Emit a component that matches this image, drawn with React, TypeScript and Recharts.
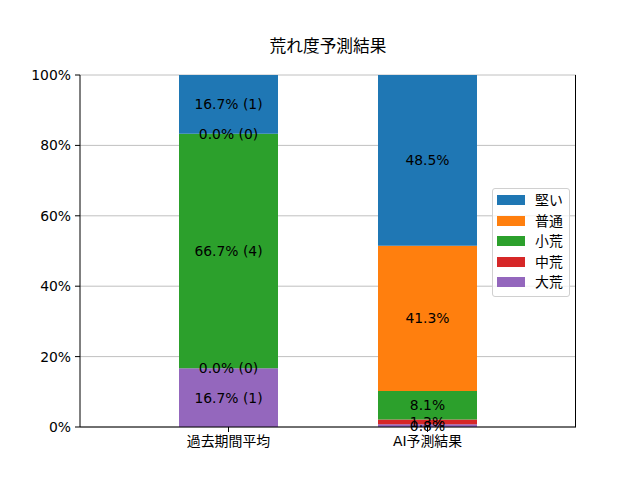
import React from "react";
import {
  BarChart,
  Bar,
  XAxis,
  YAxis,
  CartesianGrid,
  LabelList,
  Legend,
} from "recharts";

const categories = ["過去期間平均", "AI予測結果"];
const seriesNames = ["大荒", "中荒", "小荒", "普通", "堅い"];
const seriesColors = ["#9467bd", "#d62728", "#2ca02c", "#ff7f0e", "#1f77b4"];
const pastPct = [16.67, 0, 66.66, 0, 16.67];
const pastCounts = [1, 0, 4, 0, 1];
const aiPct = [0.8, 1.3, 8.1, 41.3, 48.5];
const yTicks = [0, 20, 40, 60, 80, 100];

const FONT = '"DejaVu Sans", "Noto Sans CJK JP", sans-serif';
const FS = 13.9;

// zero segments get a hair of height so recharts keeps their labels
const rows = categories.map((name, ci) => {
  const row: Record<string, any> = { name };
  seriesNames.forEach((s, si) => {
    const v = ci === 0 ? pastPct[si] : aiPct[si];
    row[s] = v === 0 ? 1e-6 : v;
  });
  return row;
});

const makeLabel = (si: number) => (props: any) => {
  const { x, y, width, height, index, value } = props;
  const text =
    index === 0
      ? `${Number(value).toFixed(1)}% (${pastCounts[si]})`
      : `${Number(value).toFixed(1)}%`;
  return (
    <text
      x={Number(x) + Number(width) / 2}
      y={Number(y) + Number(height) / 2}
      textAnchor="middle"
      dominantBaseline="central"
      fontSize={FS}
      fontFamily={FONT}
      fill="#000"
    >
      {text}
    </text>
  );
};

const LegendBox = () => (
  <div
    style={{
      border: "1px solid #d0d0d0",
      borderRadius: 3,
      background: "rgba(255,255,255,0.8)",
      padding: "1px 6px 4px 4px",
      fontFamily: FONT,
      fontSize: FS,
      lineHeight: "20.5px",
      whiteSpace: "nowrap",
      boxSizing: "border-box",
      height: 109,
    }}
  >
    {[...seriesNames].reverse().map((s, i) => (
      <div key={s} style={{ display: "flex", alignItems: "center", height: 20.5 }}>
        <span
          style={{
            display: "inline-block",
            width: 28,
            height: 10,
            background: [...seriesColors].reverse()[i],
            marginRight: 10,
          }}
        />
        <span>{s}</span>
      </div>
    ))}
  </div>
);

export default function App() {
  return (
    <div
      style={{
        position: "absolute",
        left: 0,
        top: 0,
        width: 640,
        height: 480,
        background: "#fff",
        fontFamily: FONT,
      }}
    >
      <div
        style={{
          position: "absolute",
          left: 80,
          width: 496,
          top: 33,
          textAlign: "center",
          fontSize: 16.7,
          color: "#000",
        }}
      >
        荒れ度予測結果
      </div>
      <BarChart
        width={640}
        height={480}
        data={rows}
        margin={{ top: 75, right: 64, left: 0, bottom: 23 }}
      >
        <CartesianGrid vertical={false} stroke="#b0b0b0" strokeWidth={0.8} />
        <XAxis
          dataKey="name"
          height={30}
          padding={{ left: 49, right: 49 }}
          tickSize={5}
          tickMargin={4}
          axisLine={{ stroke: "#000" }}
          tickLine={{ stroke: "#000" }}
          tick={{ fill: "#000", fontSize: FS, fontFamily: FONT }}
        />
        <YAxis
          width={80}
          domain={[0, 100]}
          ticks={yTicks}
          allowDataOverflow
          tickFormatter={(v) => `${v}%`}
          tickSize={5}
          tickMargin={4}
          axisLine={{ stroke: "#000" }}
          tickLine={{ stroke: "#000" }}
          tick={{ fill: "#000", fontSize: FS, fontFamily: FONT }}
        />
        <Legend
          layout="horizontal"
          verticalAlign="middle"
          align="center"
          content={<LegendBox />}
          wrapperStyle={{ left: 492, top: 188, width: 78, height: 109 }}
        />
        {seriesNames.map((s, si) => (
          <Bar
            key={s}
            dataKey={s}
            stackId="a"
            fill={seriesColors[si]}
            barSize={99}
            isAnimationActive={false}
          >
            <LabelList dataKey={s} content={makeLabel(si)} />
          </Bar>
        ))}
      </BarChart>
      <div
        style={{
          position: "absolute",
          left: 80,
          top: 75,
          width: 496,
          height: 352,
          borderRight: "1px solid #000",
          boxSizing: "border-box",
          pointerEvents: "none",
        }}
      />
    </div>
  );
}
